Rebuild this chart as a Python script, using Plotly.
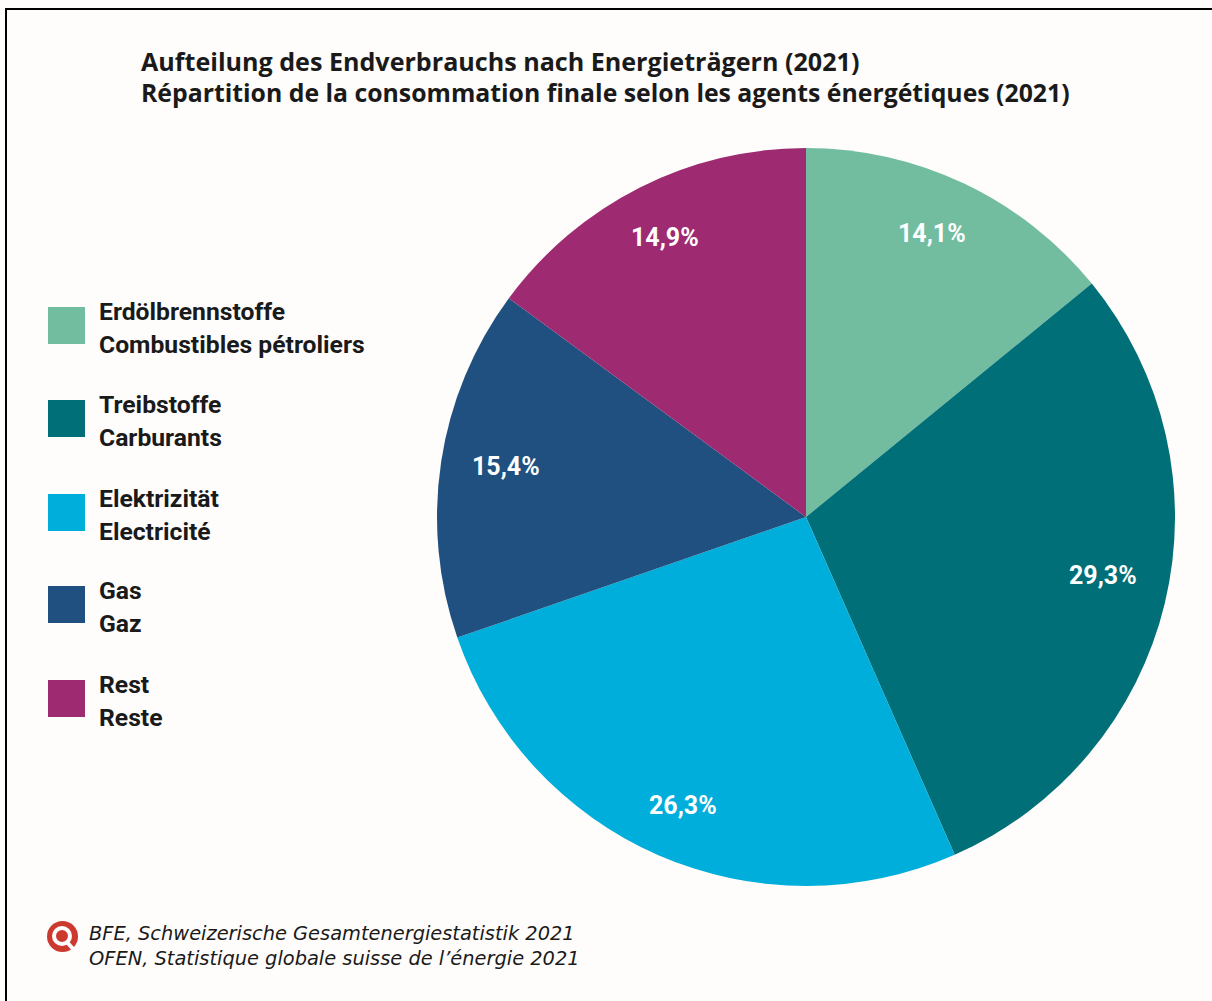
import math
import plotly.graph_objects as go

W, H = 1212, 1001
CX, CY, R = 806, 517, 369

labels_de = ["Erdölbrennstoffe", "Treibstoffe", "Elektrizität", "Gas", "Rest"]
labels_fr = ["Combustibles pétroliers", "Carburants", "Electricité", "Gaz", "Reste"]
shares = [14.1, 29.3, 26.3, 15.4, 14.9]
colors = ["#72BC9F", "#006F77", "#00AEDB", "#20507F", "#9E2A72"]
legend_tops = [307, 400, 494, 586, 680]
title_lines = [
    "Aufteilung des Endverbrauchs nach Energieträgern (2021)",
    "Répartition de la consommation finale selon les agents énergétiques (2021)",
]
source_lines = [
    "BFE, Schweizerische Gesamtenergiestatistik 2021",
    "OFEN, Statistique globale suisse de l’énergie 2021",
]
TITLE_FONT = "Open Sans"
NARROW = "Roboto"
SOURCE_FONT = "DejaVu Sans"
TEXT = "#1a1a1a"
RED = "#CC3A2F"
# Fine adjustment of each value label away from its computed spot
label_shift = [(-7, -3), (-4, -14), (1, 4), (6, -4), (-1, -3)]


def px(x):
    return x / W


def py(y):
    return 1 - y / H


fig = go.Figure(
    go.Pie(
        labels=labels_de,
        values=shares,
        sort=False,
        direction="clockwise",
        rotation=0,
        marker=dict(colors=colors, line=dict(width=0)),
        textinfo="none",
        hoverinfo="label+percent",
        showlegend=False,
        domain=dict(x=[px(CX - R), px(CX + R)], y=[py(CY + R), py(CY - R)]),
    )
)

annotations = []
shapes = [
    dict(type="rect", xref="paper", yref="paper", x0=px(6), x1=px(W + 4), y0=py(9), y1=py(H + 4),
         line=dict(color="black", width=2), fillcolor="rgba(0,0,0,0)", layer="above"),
]


def text(x, y, s, size, family=NARROW, bold=False, italic=False, color=TEXT,
         anchor="left", shift=(0, 0)):
    if bold:
        s = f"<b>{s}</b>"
    if italic:
        s = f"<i>{s}</i>"
    annotations.append(dict(
        xref="paper", yref="paper", x=px(x), y=py(y), text=s, showarrow=False,
        xanchor=anchor, yanchor="middle", align="left", xshift=shift[0], yshift=-shift[1],
        font=dict(family=family, size=size, color=color),
    ))


text(139, 61, title_lines[0], 25.1, family=TITLE_FONT, bold=True)
text(139, 92, title_lines[1], 24.8, family=TITLE_FONT, bold=True)

# Legend swatches with the German and French names side by side
for de, fr, color, top in zip(labels_de, labels_fr, colors, legend_tops):
    shapes.append(dict(type="rect", xref="paper", yref="paper",
                       x0=px(48), x1=px(85), y0=py(top), y1=py(top + 37),
                       fillcolor=color, line=dict(width=0)))
    text(97, top + 4, de, 24.7, bold=True)
    text(97, top + 37, fr, 24.7, bold=True)

# Value labels sit near the rim, at the middle angle of each slice
cumulative = 0
total = sum(shares)
for value, shift in zip(shares, label_shift):
    angle = 2 * math.pi * (cumulative + value / 2) / total
    cumulative += value
    text(CX + 0.84 * R * math.sin(angle), CY - 0.84 * R * math.cos(angle),
         f"{value:.1f}%".replace(".", ","), 25, bold=True,
         color="white", anchor="center", shift=shift)

# Source marker: a red disc with a white magnifier ring and handle
shapes.append(dict(type="circle", xref="paper", yref="paper",
                   x0=px(47), x1=px(78), y0=py(921), y1=py(952),
                   line=dict(width=0), fillcolor=RED))
shapes.append(dict(type="line", xref="paper", yref="paper",
                   x0=px(66), x1=px(74), y0=py(941), y1=py(950),
                   line=dict(color="white", width=4)))
shapes.append(dict(type="circle", xref="paper", yref="paper",
                   x0=px(54), x1=px(70), y0=py(928), y1=py(944),
                   line=dict(color="white", width=4), fillcolor=RED))
text(87, 933, source_lines[0], 19.4, family=SOURCE_FONT, italic=True)
text(87, 958, source_lines[1], 19.4, family=SOURCE_FONT, italic=True)

fig.update_layout(
    width=W, height=H, margin=dict(l=0, r=0, t=0, b=0),
    paper_bgcolor="#FEFDFB", plot_bgcolor="#FEFDFB",
    annotations=annotations, shapes=shapes,
)
fig.write_html("out.html")
